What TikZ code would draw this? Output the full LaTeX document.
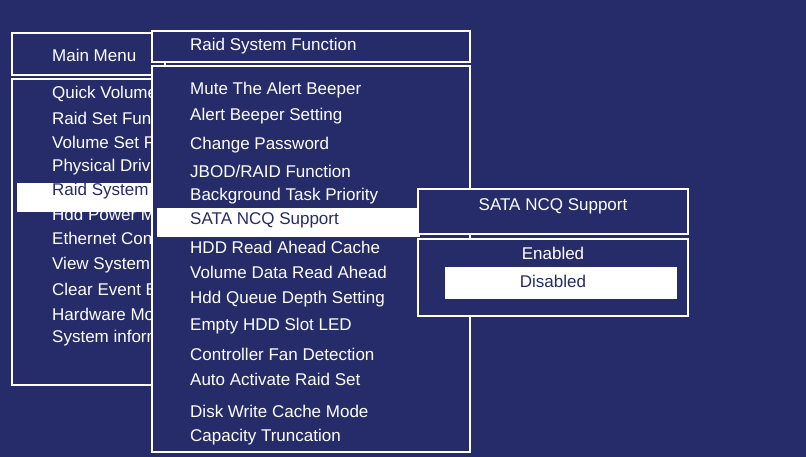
\documentclass[tikz,border=0pt]{standalone}
\usepackage{fontspec}
\setmainfont{Liberation Sans}
\usetikzlibrary{positioning}
\definecolor{navy}{RGB}{38,44,106}
\begin{document}
\begin{tikzpicture}[x=1pt,y=-1pt,font=\fontsize{17}{20}\selectfont]
	
	\tikzset{menu box/.style={draw=white, line width=2.6pt, fill=navy}}
	\tikzset{menu item/.style={anchor=west, inner sep=0pt, text=white}}
	\tikzset{menu sel/.style={fill=white, draw=none}}
	
	\fill[navy] (0,0) rectangle (806,457);
	\useasboundingbox (0,0) rectangle (806,457);
	
	% main menu
	\draw[menu box] (12,33) rectangle (165,75);
	\draw[menu box] (12,79) rectangle (165,385);
	\fill[menu sel] (17,183) rectangle (155,212);
	\node[menu item] (main) at (52,55) {Main Menu};
	\foreach \t [count=\i] in {Quick Volume,Raid Set Function,Volume Set Function,
		Physical Drives,Raid System Function,Hdd Power Management,Ethernet Configuration,
		View System Events,Clear Event Buffer,Hardware Monitor,System information}{
		\ifnum\i=5 \def\itemcol{navy}\else\def\itemcol{white}\fi
		\node[menu item, text=\itemcol] (m\i) at (52,{69+24.5*\i}) {\t};}
	
	% raid system function
	\draw[menu box] (152,31) rectangle (470,62);
	\draw[menu box] (152,66) rectangle (470,452);
	\fill[menu sel] (157,208) rectangle (420,237);
	\node[menu item] (sub) at (190,46) {Raid System Function};
	\foreach \t/\y [count=\i] in {Mute The Alert Beeper/90,Alert Beeper Setting/116,
		Change Password/145,{JBOD/RAID Function}/171,Background Task Priority/196,
		SATA NCQ Support/220,HDD Read Ahead Cache/247,Volume Data Read Ahead/272,
		Hdd Queue Depth Setting/299,Empty HDD Slot LED/326,Controller Fan Detection/354,
		Auto Activate Raid Set/379,Disk Write Cache Mode/411,Capacity Truncation/437}{
		\ifnum\i=6 \def\itemcol{navy}\else\def\itemcol{white}\fi
		\node[menu item, text=\itemcol] (s\i) at (190,\y) {\t};}
	
	% sata ncq support
	\draw[menu box] (418,189) rectangle (688,234);
	\draw[menu box] (418,239) rectangle (688,316);
	\fill[menu sel] (445,267) rectangle (677,299);
	\node[text=white, inner sep=0pt] (sata) at (553,206) {SATA NCQ Support};
	\node[text=white, inner sep=0pt] (en) at (553,253) {Enabled};
	\node[text=navy, inner sep=0pt] (dis) at (553,281) {Disabled};
\end{tikzpicture}
\end{document}
